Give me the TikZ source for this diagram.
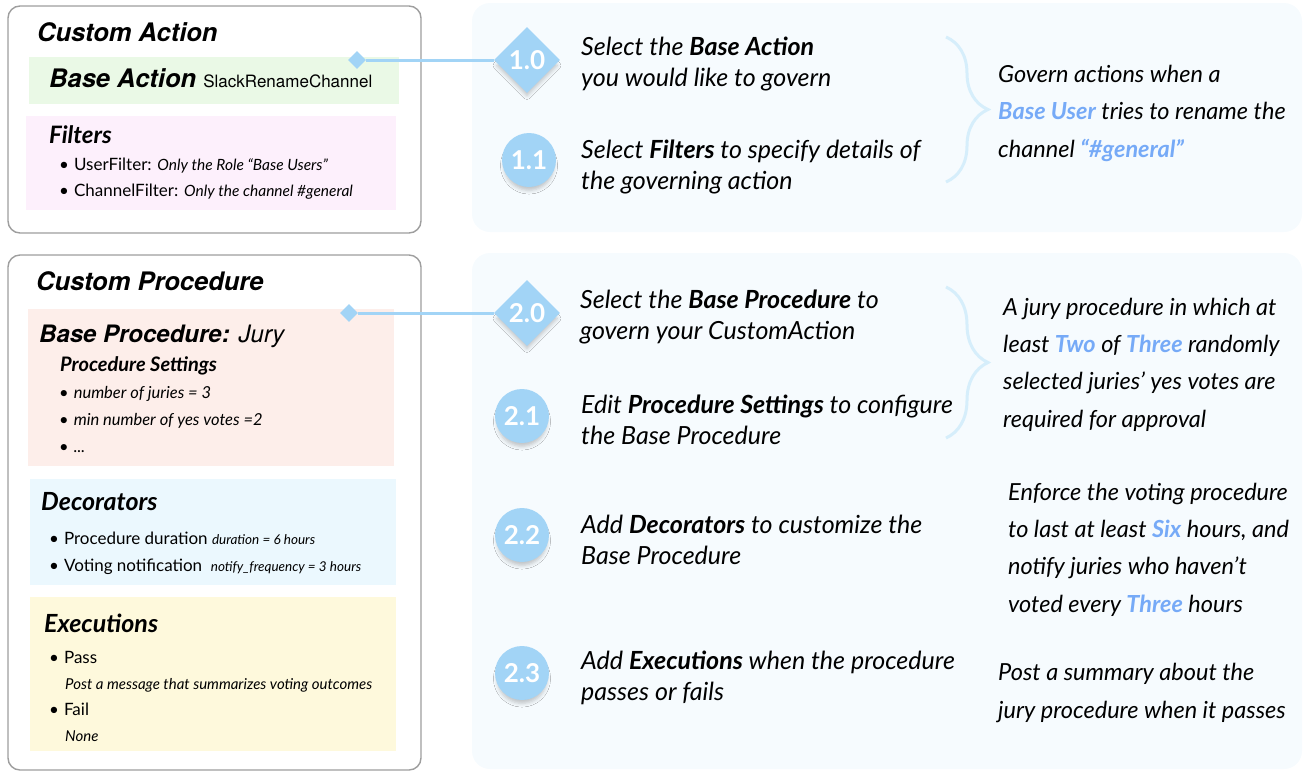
\documentclass[tikz,border=0pt]{standalone}
\usepackage{fontspec}
\setmainfont{Lato}
\newfontfamily\heros{TeX Gyre Heros}
\usetikzlibrary{shapes.geometric,shadows.blur,decorations.pathreplacing}

\definecolor{badgeblue}{HTML}{A2D4F6}
\definecolor{braceblue}{HTML}{D6EEFB}
\definecolor{panelblue}{HTML}{F6FBFE}
\definecolor{hlblue}{HTML}{76AAF7}
\definecolor{framegray}{HTML}{9E9E9E}
\definecolor{actgreen}{HTML}{EAF9E6}
\definecolor{filtpink}{HTML}{FDF0FC}
\definecolor{procred}{HTML}{FDEEEA}
\definecolor{decblue}{HTML}{EBF8FE}
\definecolor{execyel}{HTML}{FEF9DC}

\newcommand{\fsz}[2]{\fontsize{#1}{#2}\selectfont}
\newcommand{\hl}[1]{\textcolor{hlblue}{\textbf{#1}}}
\newcommand{\notefont}{\itshape\fsz{15.5}{18}}

\begin{document}
\begin{tikzpicture}[x=1pt,y=-1pt]

    \tikzset{
      card/.style={draw=framegray, line width=1.4pt, fill=white, rounded corners=12pt},
      pane/.style={fill=panelblue, rounded corners=18pt},
      txt/.style={anchor=base west, inner sep=0pt, align=left},
      head/.style={txt, font=\heros\fsz{25.5}{30}\bfseries\itshape},
      sub/.style={txt, font=\fsz{24}{30}\bfseries\itshape},
      item/.style={txt, font=\fsz{17}{20}},
      steptext/.style={txt, font=\fsz{25}{31}\itshape},
      desc/.style={txt, font=\fsz{23.5}{37.3}\itshape},
      badge/.style={fill=badgeblue, text=white, inner sep=0pt,
        font=\fsz{26}{26}\bfseries,
        blur shadow={shadow xshift=0pt, shadow yshift=-6pt, shadow scale=0.92,
          shadow blur radius=4pt, shadow opacity=22}},
      stepdiamond/.style={badge, diamond, minimum size=66pt},
      stepcircle/.style={badge, circle, minimum size=54pt},
      tipmark/.style={diamond, fill=badgeblue, minimum size=18pt, inner sep=0pt},
      link/.style={draw=badgeblue, line width=3pt},
      curly/.style={draw=braceblue, line width=3pt, decorate,
        decoration={brace, amplitude=42pt}},
    }
    \useasboundingbox (0,0) rectangle (1303,772);

    % panels
    \fill[pane] (472,3) rectangle (1302,232);
    \fill[pane] (472,253) rectangle (1302,769);
    \draw[card] (8,6) rectangle (421,233);
    \draw[card] (8,255) rectangle (421,770);

    % colour bands
    \fill[actgreen] (29,57) rectangle (399,104);
    \fill[filtpink] (26,116) rectangle (396,210);
    \fill[procred] (28,309) rectangle (394,466);
    \fill[decblue] (30,479) rectangle (396,585);
    \fill[execyel] (30,597) rectangle (396,751);

    % custom action
    \node[head] (ca) at (37,41) {Custom Action};
    \node[head] (ba) at (49,87) {Base Action {\mdseries\upshape\fsz{17}{20}SlackRenameChannel}};
    \node[sub] (fl) at (49,143) {Filters};
    \node[item] (uf) at (59,170) {\textbullet\hspace{5pt}UserFilter: {\notefont Only the Role “Base Users”}};
    \node[item] (cf) at (59,196) {\textbullet\hspace{5pt}ChannelFilter: {\notefont Only the channel \#general}};

    % custom procedure
    \node[head] (cp) at (36,290) {Custom Procedure};
    \node[head, font=\heros\fsz{24}{30}\bfseries\itshape] (bp) at (39,342) {Base Procedure: {\mdseries Jury}};
    \node[sub, font=\fsz{20}{24}\bfseries\itshape] (ps) at (60,371) {Procedure Settings};
    \node[item, font=\fsz{16.5}{20}\itshape] (p1) at (59,398) {{\upshape\textbullet}\hspace{5pt}number of juries = 3};
    \node[item, font=\fsz{16.5}{20}\itshape] (p2) at (59,425) {{\upshape\textbullet}\hspace{5pt}min number of yes votes =2};
    \node[item, font=\fsz{16.5}{20}\itshape] (p3) at (59,452) {{\upshape\textbullet}\hspace{5pt}...};
    \node[sub, font=\fsz{25}{30}\bfseries\itshape] (dc) at (41,510) {Decorators};
    \node[item] (d1) at (49,544) {\textbullet\hspace{5pt}Procedure duration {\itshape\fsz{13.5}{16}duration = 6 hours}};
    \node[item] (d2) at (49,571) {\textbullet\hspace{5pt}Voting notification \ {\itshape\fsz{13.5}{16}notify\_frequency = 3 hours}};
    \node[sub, font=\fsz{25}{30}\bfseries\itshape] (ex) at (44,632) {Executions};
    \node[item] (e1) at (49,663) {\textbullet\hspace{5pt}Pass};
    \node[item, font=\fsz{15}{20}\itshape] (e2) at (65,689) {Post a message that summarizes voting outcomes};
    \node[item] (e3) at (49,715) {\textbullet\hspace{5pt}Fail};
    \node[item, font=\fsz{15}{20}\itshape] (e4) at (65,741) {None};

    % steps
    \node[tipmark] (m10) at (357,60) {};
    \node[tipmark] (m20) at (349,313) {};
    \node[stepdiamond] (s10) at (527,60) {1.0};
    \node[stepcircle] (s11) at (529,160) {1.1};
    \node[stepdiamond] (s20) at (527,313) {2.0};
    \node[stepcircle] (s21) at (522,416) {2.1};
    \node[stepcircle] (s22) at (522,535) {2.2};
    \node[stepcircle] (s23) at (522,673) {2.3};
    \draw[link] (m10) -- (s10);
    \draw[link] (m20) -- (s20);

    \node[steptext] (t10) at (581,86) {Select the \textbf{Base Action}\\you would like to govern};
    \node[steptext] (t11) at (581,189) {Select \textbf{Filters} to specify details of\\the governing action};
    \node[steptext] (t20) at (580,339) {Select the \textbf{Base Procedure} to\\govern your CustomAction};
    \node[steptext] (t21) at (581,444) {Edit \textbf{Procedure Settings} to configure\\the Base Procedure};
    \node[steptext] (t22) at (581,564) {Add \textbf{Decorators} to customize the\\Base Procedure};
    \node[steptext] (t23) at (581,700) {Add \textbf{Executions} when the procedure\\passes or fails};

    % braces and notes
    \draw[curly] (946,37) -- (946,182);
    \draw[curly] (946,287) -- (946,438);
    \node[desc] (n1) at (998,157) {Govern actions when a\\\hl{Base User} tries to rename the\\channel \hl{“\#general”}};
    \node[desc] (n2) at (1003,427) {A jury procedure in which at\\least \hl{Two} of \hl{Three} randomly\\selected juries’ yes votes are\\required for approval};
    \node[desc] (n3) at (1008,612) {Enforce the voting procedure\\to last at least \hl{Six} hours, and\\notify juries who haven’t\\voted every \hl{Three} hours};
    \node[desc] (n4) at (998,718) {Post a summary about the\\jury procedure when it passes};

\end{tikzpicture}
\end{document}
